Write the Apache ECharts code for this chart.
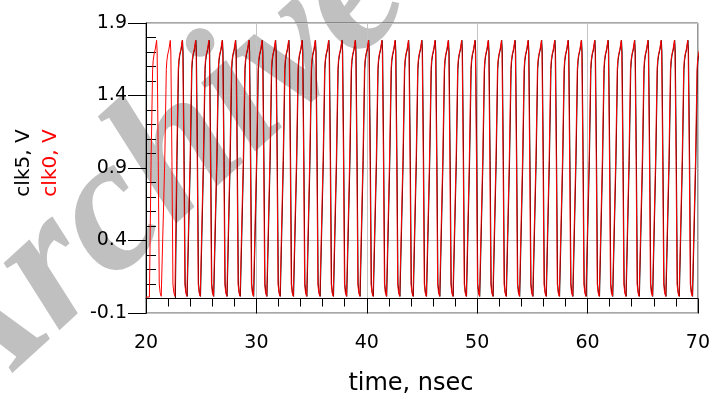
<!DOCTYPE html>
<html><head><meta charset="utf-8">
<script src="https://cdn.jsdelivr.net/npm/echarts@6/dist/echarts.min.js"></script>
<style>html,body{margin:0;padding:0;background:#fff}#c{width:713px;height:403px}</style>
</head><body><div id="c"></div>
<script>
// ---- data ----
const xTickLabels = ['20','30','40','50','60','70'];
const yTickLabels = ['-0.1','0.4','0.9','1.4','1.9'];
// peak times (nsec) of each clock pulse
const clk5Peaks = [23.31,24.52,25.72,26.93,28.13,29.34,30.54,31.75,32.95,34.16,35.36,36.57,37.77,38.98,40.18,41.39,42.59,43.80,45.00,46.21,47.41,48.62,49.82,51.03,52.23,53.44,54.64,55.85,57.05,58.26,59.46,60.67,61.87,63.08,64.28,65.49,66.69,67.90,69.10,70.31];
const clk0Peaks = [20.96,22.20,23.28,24.49,25.69,26.90,28.10,29.31,30.51,31.72,32.92,34.13,35.33,36.54,37.74,38.95,40.15,41.36,42.56,43.77,44.97,46.18,47.38,48.59,49.79,51.00,52.20,53.41,54.61,55.82,57.02,58.23,59.43,60.64,61.84,63.05,64.25,65.46,66.66,67.87,69.07,70.28];
// shape of one pulse around its peak: time offset (nsec) and voltage (V)
const pulseOffsets = [-0.65,-0.50,-0.36,-0.31,-0.24,-0.12,0,0.05,0.15,0.24,0.32,0.42];
const pulseValues  = [0.01,0.95,1.58,1.64,1.68,1.72,1.78,1.70,0.95,0.10,0.04,0.015];
// flat start before the first pulse
const clk5Lead = [[20,0.0],[22.66,0.0]];
const clk0Lead = [[20,0.01]];

function buildSeries(lead, peaks){
  const pts = lead.map(p => p.slice());
  peaks.forEach(p => pulseOffsets.forEach((o,i) => pts.push([+(p+o).toFixed(3), pulseValues[i]])));
  return pts;
}

const FONT = '"DejaVu Sans", "Liberation Sans", sans-serif';
const chart = echarts.init(document.getElementById('c'), null, {renderer:'canvas'});
const yMin = Number(yTickLabels[0]), yMax = Number(yTickLabels[yTickLabels.length-1]);
const xMin = Number(xTickLabels[0]), xMax = Number(xTickLabels[xTickLabels.length-1]);
chart.setOption({
  animation:false,
  backgroundColor:'#fff',
  grid:{left:146,right:13,top:23,bottom:90,show:true,borderColor:'#505050',borderWidth:1,backgroundColor:'transparent'},
  xAxis:{
    type:'value',min:xMin,max:xMax,interval:10,
    axisLine:{lineStyle:{color:'#000',width:1}},
    axisTick:{show:true,length:15,lineStyle:{color:'#000'}},
    minorTick:{show:true,splitNumber:5,length:8,lineStyle:{color:'#000'}},
    splitLine:{show:true,lineStyle:{color:'#c4c4c4',width:1}},
    axisLabel:{margin:21,fontSize:19,color:'#000',fontFamily:FONT,
      formatter:v=>xTickLabels[Math.round((v-xMin)/10)]},
    name:'time, nsec',nameLocation:'middle',nameGap:59,
    nameTextStyle:{fontSize:24,color:'#000',fontFamily:FONT,padding:[0,22,0,0]}
  },
  yAxis:[{
    type:'value',min:yMin,max:yMax,interval:0.5,
    axisLine:{show:true,lineStyle:{color:'#000',width:1}},
    axisTick:{show:true,length:18,lineStyle:{color:'#000'}},
    splitLine:{show:true,lineStyle:{color:'#c4c4c4',width:1}},
    axisLabel:{margin:19,fontSize:19,color:'#000',fontFamily:FONT,
      formatter:v=>yTickLabels[Math.round((v-yMin)/0.5)]}
  },{
    type:'value',min:yMin,max:yMax,interval:0.5,position:'left',
    axisLine:{show:false},axisLabel:{show:false},splitLine:{show:false},
    axisTick:{show:false,inside:true},
    minorTick:{show:true,splitNumber:5,length:10,lineStyle:{color:'#000'}}
  }],
  graphic:[
    {type:'text',x:-6,y:452,rotation:0.74,z:-10,silent:true,
     style:{text:'Archive',font:'italic bold 190px "Liberation Serif", serif',fill:'#c0c0c0',align:'left',verticalAlign:'bottom'}},
    {type:'text',x:24,y:163,rotation:Math.PI/2,
     style:{text:'clk5, V',font:'20px '+FONT,fill:'#000',align:'center',verticalAlign:'middle'}},
    {type:'text',x:51,y:163,rotation:Math.PI/2,
     style:{text:'clk0, V',font:'20px '+FONT,fill:'#ff0000',align:'center',verticalAlign:'middle'}}
  ],
  series:[
    {name:'clk5',type:'line',showSymbol:false,data:buildSeries(clk5Lead,clk5Peaks),
     lineStyle:{color:'#000',width:1},itemStyle:{color:'#000'},z:3},
    {name:'clk0',type:'line',showSymbol:false,data:buildSeries(clk0Lead,clk0Peaks),
     lineStyle:{color:'#ff0000',width:1},itemStyle:{color:'#ff0000'},z:4}
  ]
});
</script></body></html>
